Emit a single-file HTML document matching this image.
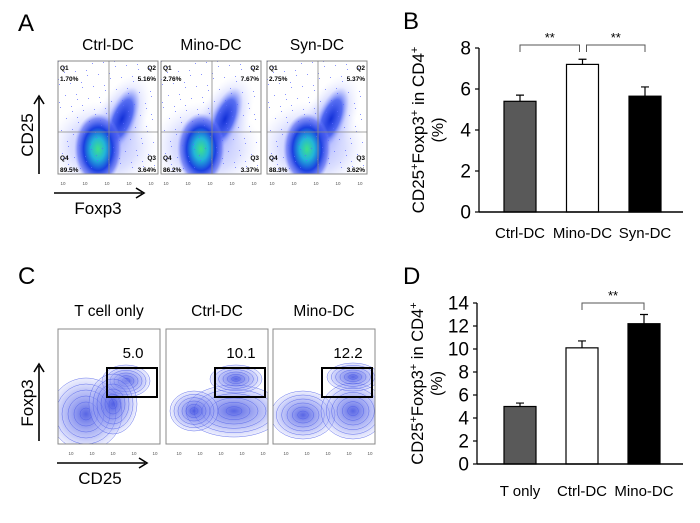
<!DOCTYPE html>
<html><head><meta charset="utf-8"><style>
html,body{margin:0;padding:0;background:#fff;}
svg{display:block;font-family:"Liberation Sans",Arial,sans-serif;}
</style></head><body>
<svg id="fig" width="700" height="523" viewBox="0 0 700 523" xmlns="http://www.w3.org/2000/svg">
<defs>
<radialGradient id="dens" cx="50%" cy="50%" r="50%">
<stop offset="0" stop-color="#3fe08a"/><stop offset="0.3" stop-color="#22b6d8"/><stop offset="0.6" stop-color="#1a3fe0"/><stop offset="0.85" stop-color="#4a5cf0" stop-opacity="0.6"/><stop offset="1" stop-color="#8a98ff" stop-opacity="0"/>
</radialGradient>
<radialGradient id="dens2" cx="50%" cy="50%" r="50%">
<stop offset="0" stop-color="#1230d8"/><stop offset="0.6" stop-color="#3a55ee" stop-opacity="0.8"/><stop offset="1" stop-color="#9aa6ff" stop-opacity="0"/>
</radialGradient>
<radialGradient id="halo" cx="50%" cy="50%" r="50%">
<stop offset="0" stop-color="#6f7dff" stop-opacity="0.7"/><stop offset="0.6" stop-color="#a4adff" stop-opacity="0.4"/><stop offset="1" stop-color="#d8dcff" stop-opacity="0"/>
</radialGradient>
<radialGradient id="cont" cx="50%" cy="50%" r="50%">
<stop offset="0" stop-color="#3a4ae0" stop-opacity="0.85"/><stop offset="0.7" stop-color="#8c96f2" stop-opacity="0.5"/><stop offset="1" stop-color="#c4c9fa" stop-opacity="0.3"/>
</radialGradient>
</defs>

<text x="18" y="31" font-size="24">A</text>
<text x="403" y="29" font-size="24">B</text>
<text x="18" y="284" font-size="24">C</text>
<text x="403" y="284" font-size="24">D</text>

<g id="panelA"></g>
<g id="panelC"></g>

<g stroke="#000" stroke-width="1.6" fill="none">
<line x1="39" y1="174" x2="39" y2="98"/><polyline points="34,104 39,96 44,104"/>
<line x1="54" y1="193" x2="142" y2="193"/><polyline points="136,188 144,193 136,198"/>
</g>
<text transform="translate(33,135) rotate(-90)" text-anchor="middle" font-size="17">CD25</text>
<text x="98" y="214" text-anchor="middle" font-size="17">Foxp3</text>

<g stroke="#000" stroke-width="1.6" fill="none">
<line x1="39" y1="441" x2="39" y2="366"/><polyline points="34,372 39,364 44,372"/>
<line x1="57" y1="463" x2="145" y2="463"/><polyline points="139,458 147,463 139,468"/>
</g>
<text transform="translate(33,403) rotate(-90)" text-anchor="middle" font-size="17">Foxp3</text>
<text x="100" y="484" text-anchor="middle" font-size="17">CD25</text>

<g id="chartB"></g>
<g id="chartD"></g>
</svg>

<script>
const NS = "http://www.w3.org/2000/svg";
function mk(tag, attrs, parent, txt) {
  const e = document.createElementNS(NS, tag);
  for (const k in attrs) e.setAttribute(k, attrs[k]);
  if (txt !== undefined) e.textContent = txt;
  parent.appendChild(e);
  return e;
}

/* ---------- Panel A: dot plots ---------- */
const aTitles = ["Ctrl-DC", "Mino-DC", "Syn-DC"];
const aQ1 = ["1.70%", "2.76%", "2.75%"];
const aQ2 = ["5.16%", "7.67%", "5.37%"];
const aQ3 = ["3.64%", "3.37%", "3.62%"];
const aQ4 = ["89.5%", "86.2%", "88.3%"];
const aBoxX = [58, 161, 267];
const pA = document.getElementById("panelA");
for (let i = 0; i < 3; i++) {
  const x0 = aBoxX[i], y0 = 61, w = 100, h = 113;
  const g = mk("g", {}, pA);
  
  
  const t = mk("text", {x: x0 + w/2, y: 50, "text-anchor": "middle", "font-size": "15.5"}, g, aTitles[i]);
  
  
  const cp = "clipA" + i;
  const c = mk("clipPath", {id: cp}, g); mk("rect", {x: x0, y: y0, width: w, height: h}, c);
  const inner = mk("g", {"clip-path": "url(#" + cp + ")"}, g);
  mk("ellipse", {cx: x0 + 45, cy: y0 + 85, rx: 55, ry: 45, fill: "url(#halo)"}, inner);
  mk("ellipse", {cx: x0 + 62, cy: y0 + 60, rx: 25, ry: 50, transform: "rotate(25 " + (x0+62) + " " + (y0+60) + ")", fill: "url(#halo)"}, inner);
  mk("ellipse", {cx: x0 + 64, cy: y0 + 58, rx: 14, ry: 34, transform: "rotate(22 " + (x0+64) + " " + (y0+58) + ")", fill: "url(#dens2)"}, inner);
  mk("ellipse", {cx: x0 + 40, cy: y0 + 88, rx: 24, ry: 36, fill: "url(#dens)"}, inner);
  for (let k = 0; k < 120; k++) {
    const dx = ((k * 37) % 97), dy = ((k * 53) % 109);
    mk("rect", {x: x0 + dx, y: y0 + dy, width: 1, height: 1, fill: "#5a68ff", opacity: 0.7}, inner);
  }
  mk("rect", {x: x0, y: y0, width: w, height: h, fill: "none", stroke: "#888", "stroke-width": 1}, g);
  mk("line", {x1: x0 + 51, y1: y0, x2: x0 + 51, y2: y0 + h, stroke: "#888", "stroke-width": 0.8}, g);
  mk("line", {x1: x0, y1: y0 + 71, x2: x0 + w, y2: y0 + 71, stroke: "#888", "stroke-width": 0.8}, g);
  const fs = {"font-size": "6.5", "font-weight": "bold"};
  mk("text", Object.assign({x: x0 + 2, y: y0 + 9}, fs), g, "Q1");
  mk("text", Object.assign({x: x0 + 2, y: y0 + 20}, fs), g, aQ1[i]);
  mk("text", Object.assign({x: x0 + w - 2, y: y0 + 9, "text-anchor": "end"}, fs), g, "Q2");
  mk("text", Object.assign({x: x0 + w - 2, y: y0 + 20, "text-anchor": "end"}, fs), g, aQ2[i]);
  mk("text", Object.assign({x: x0 + 2, y: y0 + 99}, fs), g, "Q4");
  mk("text", Object.assign({x: x0 + 2, y: y0 + 111}, fs), g, aQ4[i]);
  mk("text", Object.assign({x: x0 + w - 2, y: y0 + 99, "text-anchor": "end"}, fs), g, "Q3");
  mk("text", Object.assign({x: x0 + w - 2, y: y0 + 111, "text-anchor": "end"}, fs), g, aQ3[i]);
  for (let k = 0; k < 5; k++) mk("text", {x: x0 + 5 + k * 22, y: 185, "font-size": "4.5", fill: "#555", "text-anchor": "middle"}, g, "10");
}

/* ---------- Panel C: contour plots ---------- */
const cTitles = ["T cell only", "Ctrl-DC", "Mino-DC"];
const cGate = ["5.0", "10.1", "12.2"];
const cBoxX = [58, 166, 273];
const pC = document.getElementById("panelC");
for (let i = 0; i < 3; i++) {
  const x0 = cBoxX[i], y0 = 329, w = 102, h = 115;
  const g = mk("g", {}, pC);
  
  
  const t = mk("text", {x: x0 + w/2, y: 316, "text-anchor": "middle", "font-size": "15.5"}, g, cTitles[i]);
  
  
  const cp = "clipC" + i;
  const c = mk("clipPath", {id: cp}, g); mk("rect", {x: x0, y: y0, width: w, height: h}, c);
  const inner = mk("g", {"clip-path": "url(#" + cp + ")"}, g);
  let blobs;
  if (i === 0) blobs = [[x0+28,y0+85,36,36],[x0+68,y0+52,24,16],[x0+55,y0+75,24,30]];
  else if (i === 1) blobs = [[x0+68,y0+82,48,26],[x0+28,y0+82,24,20],[x0+70,y0+50,26,14]];
  else blobs = [[x0+30,y0+86,32,24],[x0+80,y0+82,32,28],[x0+80,y0+48,26,14]];
  blobs.forEach(b => {
    mk("ellipse", {cx: b[0], cy: b[1], rx: b[2], ry: b[3], fill: "url(#cont)"}, inner);
    for (let r = 1; r <= 6; r++) mk("ellipse", {cx: b[0], cy: b[1], rx: b[2] * r / 6, ry: b[3] * r / 6, fill: "none", stroke: "#4a5ae8", "stroke-width": 0.5, opacity: 0.8}, inner);
  });
  mk("rect", {x: x0, y: y0, width: w, height: h, fill: "none", stroke: "#888", "stroke-width": 1}, g);
  const gate = mk("rect", {x: x0 + 49, y: 368, width: 50, height: 29, fill: "none", stroke: "#000", "stroke-width": 2}, g);
  
  
  const gl = mk("text", {x: x0 + 75, y: 358, "text-anchor": "middle", "font-size": "15"}, g, cGate[i]);
  
  
  for (let k = 0; k < 5; k++) mk("text", {x: x0 + 13 + k * 21, y: 455, "font-size": "4.5", fill: "#555", "text-anchor": "middle"}, g, "10");
}

/* ---------- Panel B bar chart ---------- */
const bCategories = ["Ctrl-DC", "Mino-DC", "Syn-DC"];
const bValues = [5.4, 7.2, 5.65];
const bErrors = [0.3, 0.25, 0.45];
const bTicks = [0, 2, 4, 6, 8];
const bFills = ["#595959", "#ffffff", "#000000"];

/* ---------- Panel D bar chart ---------- */
const dCategories = ["T only", "Ctrl-DC", "Mino-DC"];
const dValues = [5.0, 10.1, 12.2];
const dErrors = [0.3, 0.6, 0.8];
const dTicks = [0, 2, 4, 6, 8, 10, 12, 14];
const dFills = ["#595959", "#ffffff", "#000000"];

function barChart(gid, cats, vals, errs, ticks, fills, cfg, prefix) {
  const root = document.getElementById(gid);
  const yMax = ticks[ticks.length - 1];
  const y = v => cfg.y0 - (v / yMax) * (cfg.y0 - cfg.yTop);
  const bx = i => cfg.barX[0] + i * cfg.step;
  const ya = mk("line", {x1: cfg.ax, y1: cfg.yTop, x2: cfg.ax, y2: cfg.y0, stroke: "#000", "stroke-width": 1.3}, root);
  
  
  ticks.forEach(t => {
    mk("line", {x1: cfg.ax - 4, y1: y(t), x2: cfg.ax, y2: y(t), stroke: "#000", "stroke-width": 1.2}, root);
    const tl = mk("text", {x: cfg.ax - 8, y: y(t) + 6.5, "text-anchor": "end", "font-size": "19"}, root, String(t));
    
    
  });
  cats.forEach((c, i) => {
    const x = bx(i);
    const bar = mk("rect", {x: x, y: y(vals[i]), width: cfg.bw, height: cfg.y0 - y(vals[i]), fill: fills[i], stroke: "#000", "stroke-width": 1.2}, root);
    
    
    const cx = x + cfg.bw / 2, ye = y(vals[i] + errs[i]);
    const eb = mk("path", {d: "M" + cx + "," + y(vals[i]) + "V" + ye + "M" + (cx - 4) + "," + ye + "H" + (cx + 4), stroke: "#000", "stroke-width": 1.2, fill: "none"}, root);
    
    
    const cl = mk("text", {x: cx, y: cfg.labY, "text-anchor": "middle", "font-size": "15"}, root, c);
    
    
  });
  const xa = mk("line", {x1: cfg.ax, y1: cfg.y0, x2: cfg.xEnd, y2: cfg.y0, stroke: "#000", "stroke-width": 1.5}, root);
  
  
  const yc = (cfg.yTop + cfg.y0) / 2;
  const yt = mk("text", {transform: "translate(" + cfg.titleX + "," + yc + ") rotate(-90)", "text-anchor": "middle", "font-size": cfg.titleFs}, root);
  
  
  yt.innerHTML = 'CD25<tspan dy="-6" font-size="11">+</tspan><tspan dy="6">Foxp3</tspan><tspan dy="-6" font-size="11">+</tspan><tspan dy="6"> in CD4</tspan><tspan dy="-6" font-size="11">+</tspan>';
  const yt2 = mk("text", {transform: "translate(" + (cfg.titleX + 19) + "," + yc + ") rotate(-90)", "text-anchor": "middle", "font-size": "16"}, root, "(%)");
  
  
  cfg.sig.forEach(s => {
    const xa1 = bx(s[0]) + cfg.bw / 2 + (s[2] || 0), xa2 = bx(s[1]) + cfg.bw / 2 + (s[3] || 0);
    const br = mk("path", {d: "M" + xa1 + "," + (cfg.brY + 7) + "V" + cfg.brY + "H" + xa2 + "V" + (cfg.brY + 7), stroke: "#555", "stroke-width": 1, fill: "none"}, root);
    
    
    const st = mk("text", {x: (xa1 + xa2) / 2, y: cfg.brY - 3, "text-anchor": "middle", "font-size": "13"}, root, "**");
    
    
  });
}

barChart("chartB", bCategories, bValues, bErrors, bTicks, bFills,
  {ax: 479, xEnd: 683, y0: 212, yTop: 48, barX: [504], step: 62.5, bw: 32, labY: 238, titleX: 424, titleFs: 17, brY: 45,
   sig: [[0, 1, 0, -3], [1, 2, 4, 0]]}, "b");
barChart("chartD", dCategories, dValues, dErrors, dTicks, dFills,
  {ax: 477, xEnd: 683, y0: 464, yTop: 303, barX: [504], step: 62, bw: 32, labY: 496, titleX: 423, titleFs: 16.5, brY: 303,
   sig: [[1, 2, 0, 0]]}, "d");
</script>
</body></html>
